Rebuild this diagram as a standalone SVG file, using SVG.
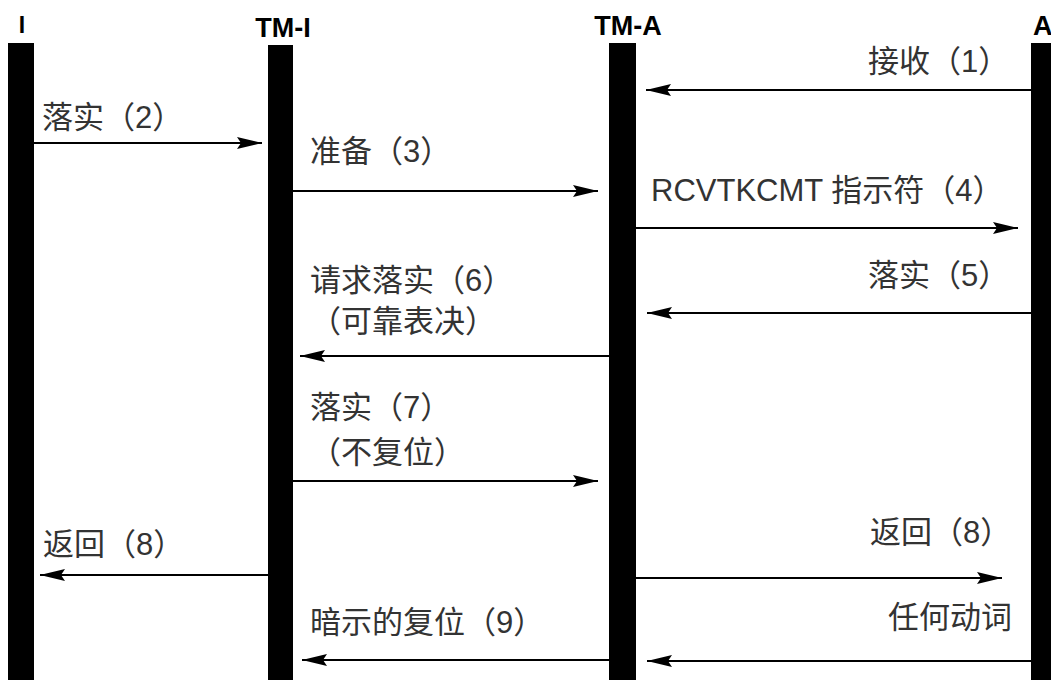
<svg xmlns="http://www.w3.org/2000/svg" width="1051" height="680" viewBox="0 0 1051 680">
<style>
.bar{fill:#000}
.hdr{font-family:"Liberation Sans","Noto Sans CJK SC",sans-serif;font-weight:bold;font-size:27px;fill:#000}
.lbl{font-family:"Liberation Sans","Noto Sans CJK SC",sans-serif;font-size:31px;fill:#333}
.msg{stroke:#000;stroke-width:2;fill:none;marker-end:url(#ah)}
</style>
<defs>
<marker id="ah" markerUnits="userSpaceOnUse" markerWidth="26" markerHeight="14" refX="25" refY="6" orient="auto">
<path d="M0,0 L25,6 L0,12 L4,6 z" fill="#000"/>
</marker>
</defs>
<rect width="1051" height="680" fill="#fff"/>
<g id="lifeline-I">
<rect class="bar" x="8" y="43" width="26" height="637"/>
<text class="hdr" x="22" y="33" text-anchor="middle" style="font-size:23px">I</text>
</g>
<g id="lifeline-TM-I">
<rect class="bar" x="268" y="45" width="25" height="635"/>
<text class="hdr" x="283" y="37" text-anchor="middle">TM-I</text>
</g>
<g id="lifeline-TM-A">
<rect class="bar" x="609" y="43" width="27" height="637"/>
<text class="hdr" x="628" y="35" text-anchor="middle">TM-A</text>
</g>
<g id="lifeline-A">
<rect class="bar" x="1031" y="43" width="25" height="637"/>
<text class="hdr" x="1033" y="35">A</text>
</g>
<g id="connectors">
<line class="msg" x1="1031" y1="90" x2="646" y2="90"/>
<line class="msg" x1="34" y1="143" x2="262" y2="143"/>
<line class="msg" x1="293" y1="191" x2="598" y2="191"/>
<line class="msg" x1="636" y1="228" x2="1018" y2="228"/>
<line class="msg" x1="1031" y1="313" x2="647" y2="313"/>
<line class="msg" x1="609" y1="356" x2="300" y2="356"/>
<line class="msg" x1="293" y1="481" x2="598" y2="481"/>
<line class="msg" x1="268" y1="575" x2="40" y2="575"/>
<line class="msg" x1="636" y1="578" x2="1002" y2="578"/>
<line class="msg" x1="609" y1="660" x2="302" y2="660"/>
<line class="msg" x1="1031" y1="661" x2="647" y2="661"/>
</g>
<g id="labels">
<text class="lbl" x="868" y="72">接收（1）</text>
<text class="lbl" x="42" y="128">落实（2）</text>
<text class="lbl" x="310" y="162">准备（3）</text>
<text class="lbl" x="651" y="201">RCVTKCMT 指示符（4）</text>
<text class="lbl" x="868" y="286">落实（5）</text>
<text class="lbl" x="310" y="291">请求落实（6）</text>
<text class="lbl" x="310" y="332">（可靠表决）</text>
<text class="lbl" x="310" y="418">落实（7）</text>
<text class="lbl" x="310" y="463">（不复位）</text>
<text class="lbl" x="43" y="555">返回（8）</text>
<text class="lbl" x="870" y="543">返回（8）</text>
<text class="lbl" x="888" y="628">任何动词</text>
<text class="lbl" x="310" y="633">暗示的复位（9）</text>
</g>
</svg>
